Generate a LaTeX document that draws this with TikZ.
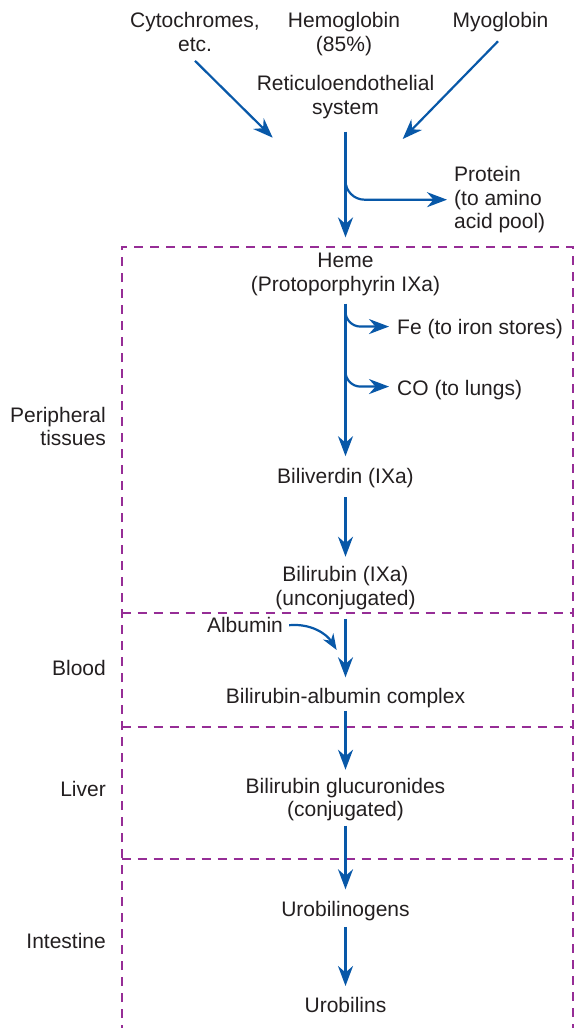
\documentclass[tikz,border=0pt]{standalone}
\usepackage{fontspec}
\setmainfont{Liberation Sans}
\usetikzlibrary{arrows.meta}
\definecolor{flowblue}{RGB}{8,88,168}
\definecolor{zonepurple}{RGB}{150,45,150}
\definecolor{ink}{RGB}{35,31,32}
\begin{document}
\begin{tikzpicture}[x=1pt,y=-1pt,
  lbl/.style={font=\fontsize{21}{23.5}\selectfont, text=ink, inner sep=0pt, align=center},
  flow/.style={draw=flowblue, line width=2.2pt, -{Stealth[length=20pt,width=15pt,inset=6.5pt]}},
  flowsmall/.style={draw=flowblue, line width=2.2pt, -{Stealth[length=16pt,width=12pt,inset=5pt]}},
  zone/.style={draw=zonepurple, line width=2.2pt, dash pattern=on 9pt off 7pt}]
\useasboundingbox (0,0) rectangle (574,1028);

% compartments
\draw[zone] (121.7,1034) -- (121.7,246.7) -- (573,246.7) -- (573,1034);
\draw[zone] (121.7,613.3) -- (573,613.3);
\draw[zone] (121.7,726.7) -- (573,726.7);
\draw[zone] (121.7,859.3) -- (573,859.3);

% compartment labels
\node[lbl, anchor=north east, align=right] (periph) at (106,407) {Peripheral\\tissues};
\node[lbl, anchor=base east] (blood) at (106,675) {Blood};
\node[lbl, anchor=base east] (liver) at (106,796.7) {Liver};
\node[lbl, anchor=base east] (intest) at (106,948) {Intestine};

% sources of heme
\node[lbl, anchor=north] (cyt) at (195,12.2) {Cytochromes,\\etc.};
\node[lbl, anchor=north] (hb) at (344,12.2) {Hemoglobin\\(85\%)};
\node[lbl, anchor=base] (mb) at (500.5,27) {Myoglobin};
\node[lbl, anchor=north] (res) at (345.5,75.2) {Reticuloendothelial\\system};
\node[lbl, anchor=north west, align=left] (prot) at (454,166.2) {Protein\\(to amino\\acid pool)};

% degradation pathway
\node[lbl, anchor=north] (heme) at (345.5,253) {Heme\\(Protoporphyrin IXa)};
\node[lbl, anchor=base west] (fe) at (397,334) {Fe (to iron stores)};
\node[lbl, anchor=base west] (co) at (397,395) {CO (to lungs)};
\node[lbl, anchor=base] (biliv) at (345.5,483) {Biliverdin (IXa)};
\node[lbl, anchor=north] (bilir) at (345.5,566.5) {Bilirubin (IXa)\\(unconjugated)};
\node[lbl, anchor=base] (alb) at (245,632.7) {Albumin};
\node[lbl, anchor=base] (bac) at (345.5,703) {Bilirubin-albumin complex};
\node[lbl, anchor=north] (bgl) at (345.5,778) {Bilirubin glucuronides\\(conjugated)};
\node[lbl, anchor=base] (urog) at (345.5,916.3) {Urobilinogens};
\node[lbl, anchor=base] (urob) at (345.5,1012.7) {Urobilins};

% arrow ends and branch points
\coordinate (cytin) at (272.7,137.7);
\coordinate (mbin) at (402.7,139);
\coordinate (pj) at (345.5,180);
\coordinate (fej) at (345.5,310);
\coordinate (coj) at (345.5,367);
\coordinate (albin) at (336.7,650);

% connectors
\draw[flow] ([yshift=-9.3pt]cyt.south) -- (cytin);
\draw[flow] ([xshift=-2.5pt,yshift=-9.7pt]mb.south) -- (mbin);
\draw[flow, shorten <=13pt, shorten >=15.6pt] (res.south) -- (heme.north);
\draw[flow, rounded corners=19pt] (pj) |- ([xshift=-7pt]prot.west);
\draw[flow, shorten <=8pt, shorten >=11.4pt] (heme.south) -- (biliv.north);
\draw[flow, rounded corners=15pt] (fej) |- ([xshift=-8pt,yshift=2pt]fe.west);
\draw[flow, rounded corners=15pt] (coj) |- ([xshift=-8pt,yshift=3pt]co.west);
\draw[flow, shorten <=9.7pt, shorten >=9.8pt] (biliv.south) -- (bilir.north);
\draw[flow, shorten <=8.8pt, shorten >=10.3pt] (bilir.south) -- (bac.north);
\draw[flowsmall] ([xshift=6pt]alb.east) .. controls +(22,-2) and +(-10,-16) .. (albin);
\draw[flow, shorten <=3.4pt, shorten >=8.3pt] (bac.south) -- (bgl.north);
\draw[flow, shorten <=4.2pt, shorten >=11.6pt] (bgl.south) -- (urog.north);
\draw[flow, shorten <=6.1pt, shorten >=11.3pt] (urog.south) -- (urob.north);
\end{tikzpicture}
\end{document}
